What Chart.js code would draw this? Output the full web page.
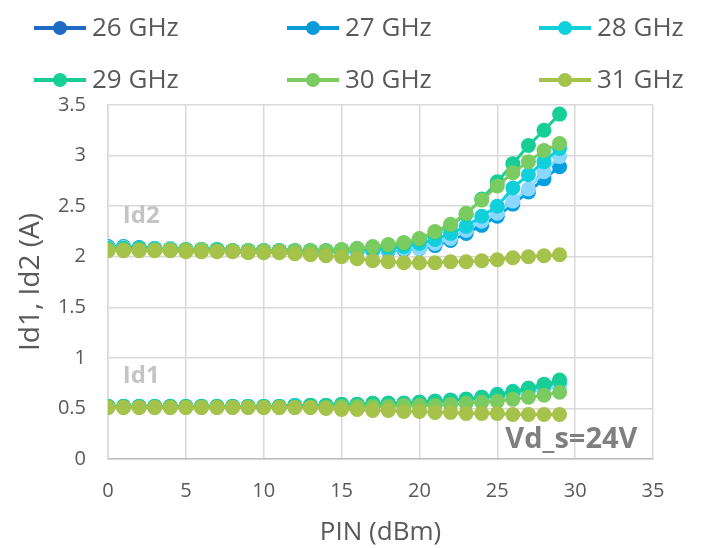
<!DOCTYPE html>
<html>
<head>
<meta charset="utf-8">
<script src="https://cdn.jsdelivr.net/npm/chart.js@4/dist/chart.umd.min.js"></script>
<style>
  html, body { margin: 0; padding: 0; background: #fff; }
</style>
</head>
<body>
<canvas id="myChart" width="704" height="548"></canvas>
<script>
// PIN sweep (dBm)
var pinDbm = [0,1,2,3,4,5,6,7,8,9,10,11,12,13,14,15,16,17,18,19,20,21,22,23,24,25,26,27,28,29];

var freqLabels = ['26 GHz', '27 GHz', '28 GHz', '29 GHz', '30 GHz', '31 GHz'];

// Id2 (A) per frequency
var id2_26 = [2.09,2.09,2.08,2.08,2.08,2.07,2.07,2.07,2.06,2.06,2.06,2.06,2.05,2.05,2.05,2.05,2.05,2.06,2.07,2.08,2.08,2.13,2.18,2.26,2.35,2.43,2.55,2.67,2.84,2.99];
var id2_27 = [2.10,2.10,2.09,2.08,2.08,2.07,2.07,2.07,2.06,2.06,2.06,2.06,2.05,2.05,2.05,2.05,2.05,2.06,2.06,2.07,2.08,2.11,2.16,2.23,2.31,2.40,2.52,2.64,2.77,2.89];
var id2_28 = [2.08,2.08,2.08,2.08,2.07,2.07,2.07,2.07,2.06,2.06,2.06,2.06,2.06,2.06,2.06,2.06,2.07,2.07,2.08,2.10,2.13,2.17,2.23,2.30,2.40,2.50,2.68,2.81,2.94,3.07];
var id2_29 = [2.08,2.08,2.08,2.07,2.07,2.07,2.07,2.07,2.06,2.06,2.06,2.06,2.06,2.06,2.06,2.07,2.08,2.09,2.11,2.13,2.17,2.24,2.31,2.42,2.57,2.74,2.92,3.10,3.25,3.41];
var id2_30 = [2.07,2.07,2.07,2.07,2.07,2.07,2.07,2.06,2.06,2.06,2.06,2.06,2.06,2.06,2.06,2.07,2.08,2.10,2.12,2.14,2.18,2.25,2.32,2.43,2.56,2.70,2.83,2.94,3.05,3.12];
var id2_31 = [2.06,2.06,2.06,2.06,2.06,2.05,2.05,2.05,2.05,2.04,2.04,2.04,2.03,2.02,2.01,2.00,1.98,1.96,1.95,1.94,1.94,1.94,1.95,1.95,1.96,1.97,1.99,2.00,2.01,2.02];

// Id1 (A) per frequency
var id1_26 = [0.52,0.52,0.52,0.52,0.52,0.52,0.52,0.52,0.52,0.52,0.52,0.52,0.53,0.53,0.53,0.53,0.54,0.54,0.54,0.55,0.55,0.56,0.57,0.58,0.59,0.61,0.63,0.66,0.69,0.72];
var id1_27 = [0.52,0.52,0.52,0.52,0.52,0.52,0.52,0.52,0.52,0.52,0.52,0.52,0.53,0.53,0.53,0.54,0.54,0.54,0.55,0.55,0.56,0.57,0.58,0.59,0.60,0.62,0.65,0.68,0.71,0.74];
var id1_28 = [0.52,0.52,0.52,0.52,0.52,0.52,0.52,0.52,0.52,0.52,0.52,0.52,0.53,0.53,0.53,0.54,0.54,0.55,0.55,0.55,0.56,0.57,0.58,0.59,0.61,0.64,0.67,0.70,0.73,0.77];
var id1_29 = [0.52,0.52,0.52,0.52,0.52,0.52,0.52,0.52,0.52,0.52,0.52,0.52,0.52,0.53,0.53,0.54,0.54,0.55,0.55,0.55,0.56,0.57,0.58,0.59,0.61,0.63,0.66,0.70,0.74,0.78];
var id1_30 = [0.51,0.51,0.51,0.51,0.51,0.51,0.51,0.51,0.51,0.51,0.51,0.51,0.51,0.51,0.51,0.52,0.52,0.52,0.52,0.53,0.53,0.53,0.54,0.55,0.56,0.57,0.59,0.61,0.63,0.66];
var id1_31 = [0.51,0.51,0.51,0.51,0.51,0.51,0.51,0.51,0.51,0.51,0.51,0.51,0.51,0.51,0.50,0.49,0.49,0.48,0.48,0.47,0.47,0.46,0.46,0.45,0.45,0.45,0.44,0.44,0.44,0.44];

var yTickLabels = ['0', '0.5', '1', '1.5', '2', '2.5', '3', '3.5'];
var xTickLabels = ['0', '5', '10', '15', '20', '25', '30', '35'];

var legendColors = ['#1F6BC4', '#0A9BD9', '#12CFDC', '#17CF96', '#7ACB60', '#A5C24A'];
var markerColors = ['#8AD8FF', '#00A0E0', '#12CFDC', '#17CF96', '#7ACB60', '#A5C24A'];
var drawOrder = [5, 6, 4, 3, 2, 1]; // lower = on top

var id2Series = [id2_26, id2_27, id2_28, id2_29, id2_30, id2_31];
var id1Series = [id1_26, id1_27, id1_28, id1_29, id1_30, id1_31];

function toPoints(vals) {
    return vals.map(function (v, i) { return { x: pinDbm[i], y: v }; });
}

var datasets = [];
freqLabels.forEach(function (lbl, i) {
    [id2Series[i], id1Series[i]].forEach(function (vals, k) {
        datasets.push({
            label: lbl,
            isLegend: k === 0,
            legendColor: legendColors[i],
            data: toPoints(vals),
            borderColor: markerColors[i],
            backgroundColor: markerColors[i],
            borderWidth: 3,
            pointRadius: 7.5,
            pointBorderWidth: 0,
            pointHoverRadius: 7.5,
            order: drawOrder[i]
        });
    });
});

var FONT = '"Open Sans", "Noto Sans", sans-serif';
var GREY = '#595959';

// legend at the top, 3 columns x 2 rows
var legendPlugin = {
    id: 'topLegend',
    afterDraw: function (chart) {
        var ctx = chart.ctx;
        var colX = [34, 287, 539];
        var rowY = [28, 80];
        var items = chart.data.datasets.filter(function (d) { return d.isLegend; });
        ctx.save();
        items.forEach(function (d, i) {
            var x0 = colX[i % 3], y = rowY[Math.floor(i / 3)];
            ctx.strokeStyle = d.legendColor;
            ctx.lineWidth = 4;
            ctx.beginPath();
            ctx.moveTo(x0, y);
            ctx.lineTo(x0 + 52, y);
            ctx.stroke();
            ctx.fillStyle = d.legendColor;
            ctx.beginPath();
            ctx.arc(x0 + 26, y, 7, 0, Math.PI * 2);
            ctx.fill();
            ctx.fillStyle = GREY;
            ctx.font = '26px ' + FONT;
            ctx.textBaseline = 'middle';
            ctx.textAlign = 'left';
            ctx.fillText(d.label, x0 + 58, y + 1);
        });
        ctx.restore();
    }
};

// in-plot text labels
var notesPlugin = {
    id: 'notes',
    afterDatasetsDraw: function (chart) {
        var ctx = chart.ctx;
        var xs = chart.scales.x, ys = chart.scales.y;
        ctx.save();
        ctx.textBaseline = 'middle';
        ctx.textAlign = 'left';
        ctx.font = 'bold 24px ' + FONT;
        ctx.fillStyle = '#C4C4C4';
        ctx.fillText('Id2', xs.getPixelForValue(0.95), ys.getPixelForValue(2.4));
        ctx.fillText('Id1', xs.getPixelForValue(0.95), ys.getPixelForValue(0.82));
        ctx.font = 'bold 29px ' + FONT;
        ctx.fillStyle = '#7F7F7F';
        ctx.textAlign = 'right';
        ctx.fillText('Vd_s=24V', xs.getPixelForValue(34), ys.getPixelForValue(0.19));
        ctx.restore();
    }
};

var ctx = document.getElementById('myChart').getContext('2d');

var myChart = new Chart(ctx, {
    type: 'line',
    data: { datasets: datasets },
    options: {
        responsive: false,
        animation: false,
        layout: { padding: { top: 105, right: 51, left: 0, bottom: 0 } },
        plugins: {
            legend: { display: false },
            tooltip: { enabled: false }
        },
        scales: {
            x: {
                type: 'linear',
                min: 0,
                max: 35,
                afterFit: function (s) { s.height = 89; },
                ticks: {
                    stepSize: 5,
                    padding: 20,
                    color: GREY,
                    font: { family: FONT, size: 20 },
                    maxRotation: 0,
                    callback: function (v) { return xTickLabels[v / 5]; }
                },
                grid: { color: '#D9D9D9', lineWidth: 1.5, drawTicks: false },
                border: { color: '#BFBFBF', width: 1.5 },
                title: {
                    display: true,
                    text: 'PIN (dBm)',
                    color: GREY,
                    font: { family: FONT, size: 26 },
                    padding: { top: 4, bottom: 0 }
                }
            },
            y: {
                min: 0,
                max: 3.5,
                afterFit: function (s) { s.width = 108; },
                ticks: {
                    stepSize: 0.5,
                    padding: 22,
                    color: GREY,
                    font: { family: FONT, size: 20 },
                    callback: function (v) { return yTickLabels[Math.round(v * 2)]; }
                },
                grid: { color: '#D9D9D9', lineWidth: 1.5, drawTicks: false },
                border: { color: '#D9D9D9', width: 1.5 },
                title: {
                    display: true,
                    text: 'Id1, Id2 (A)',
                    color: GREY,
                    font: { family: FONT, size: 28 },
                    padding: { top: 14, bottom: 0 }
                }
            }
        }
    },
    plugins: [legendPlugin, notesPlugin]
});
</script>
</body>
</html>
